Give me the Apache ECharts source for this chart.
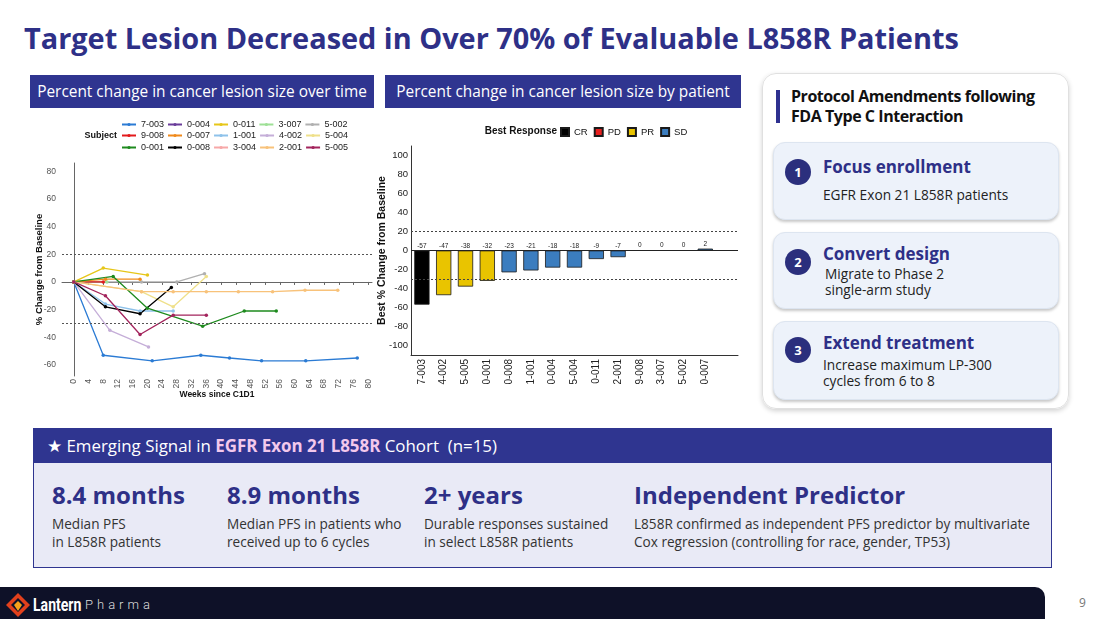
<!DOCTYPE html>
<html lang="en">
<head>
<meta charset="UTF-8">
<title>Target Lesion Decreased</title>
<script src="https://cdn.jsdelivr.net/npm/echarts@6.0.0/dist/echarts.min.js"></script>
<style>
    body{margin:0;width:1100px;height:619px;overflow:hidden;background:#fff;font-family:"Open Sans",sans-serif;position:relative;}
    .abs{position:absolute;white-space:nowrap;}
    #title{left:24px;top:19px;font-size:28.9px;line-height:38px;font-weight:700;color:#2e3087;}
    .tag{background:#2f3590;color:#fff;font-size:15.4px;height:33px;line-height:33px;text-align:center;top:75px;}
    #card{left:762px;top:73px;width:305px;height:334px;border:1px solid #e0e0e0;border-radius:14px;box-shadow:0 2px 5px rgba(0,0,0,.18);}
    .sub{left:773px;width:284px;background:#edf2fa;border:1px solid #dde5f0;border-radius:12px;box-shadow:0 2px 3px rgba(0,0,0,.22);}
    .num{left:785px;width:26px;height:26px;border-radius:13px;background:#2b2f7d;color:#fff;font-weight:700;font-size:13px;line-height:26px;text-align:center;}
    .h{left:823px;font-size:17px;line-height:22px;font-weight:700;color:#2e3087;}
    .b{font-size:13.7px;line-height:15.5px;color:#222;}
    #panel{left:33px;top:428px;width:1017px;height:138px;border:1px solid #2f3590;background:#e9eaf6;}
    #panelHead{left:33px;top:428px;width:1019px;height:35px;background:#2f3590;}
    .sv{top:480px;font-size:24px;line-height:30px;font-weight:700;color:#2e3087;}
    .sd{top:515px;font-size:13.6px;line-height:18px;color:#333;}
    #footer{left:0;top:587px;width:1045px;height:32px;background:#0e1128;border-top-right-radius:10px;}
</style>
</head>
<body>
<div class="abs" id="title">Target Lesion Decreased in Over 70% of Evaluable L858R Patients</div>
<div class="abs tag" style="left:30px;width:344px;">Percent change in cancer lesion size over time</div>
<div class="abs tag" style="left:385px;width:356px;">Percent change in cancer lesion size by patient</div>

<div id="lineChart" class="abs" style="left:28px;top:112px;width:350px;height:292px;"></div>
<div id="wfChart" class="abs" style="left:375px;top:118px;width:370px;height:285px;"></div>

<!-- 右侧卡片 -->
<div class="abs" id="card"></div>
<div class="abs" style="left:776px;top:90px;width:4px;height:33px;background:#2e3190;"></div>
<div class="abs" style="left:791px;top:86px;font-size:16px;line-height:20px;font-weight:700;color:#111;letter-spacing:-0.45px;">Protocol Amendments following<br>FDA Type C Interaction</div>

<div class="abs sub" style="top:142px;height:76px;"></div>
<div class="abs num" style="top:159px;">1</div>
<div class="abs h" style="top:156px;">Focus enrollment</div>
<div class="abs b" style="left:823px;top:187px;">EGFR Exon 21 L858R patients</div>

<div class="abs sub" style="top:232px;height:75px;"></div>
<div class="abs num" style="top:249px;">2</div>
<div class="abs h" style="top:243px;">Convert design</div>
<div class="abs b" style="left:825px;top:266px;">Migrate to Phase 2<br>single-arm study</div>

<div class="abs sub" style="top:321px;height:77px;"></div>
<div class="abs num" style="top:337px;">3</div>
<div class="abs h" style="top:332px;">Extend treatment</div>
<div class="abs b" style="left:823px;top:357px;">Increase maximum LP-300<br>cycles from 6 to 8</div>

<!-- 底部面板 -->
<div class="abs" id="panel"></div>
<div class="abs" id="panelHead"></div>
<div class="abs" style="left:47px;top:434px;font-size:16.9px;line-height:24px;color:#fff;">&#9733; Emerging Signal in <b style="color:#f3c8ec;">EGFR Exon 21 L858R</b> Cohort&nbsp; (n=15)</div>

<div class="abs sv" style="left:52px;">8.4 months</div>
<div class="abs sd" style="left:52px;">Median PFS<br>in L858R patients</div>
<div class="abs sv" style="left:227px;">8.9 months</div>
<div class="abs sd" style="left:227px;">Median PFS in patients who<br>received up to 6 cycles</div>
<div class="abs sv" style="left:424px;">2+ years</div>
<div class="abs sd" style="left:424px;">Durable responses sustained<br>in select L858R patients</div>
<div class="abs sv" style="left:634px;">Independent Predictor</div>
<div class="abs sd" style="left:634px;">L858R confirmed as independent PFS predictor by multivariate<br>Cox regression (controlling for race, gender, TP53)</div>

<!-- 页脚 -->
<div class="abs" id="footer"></div>
<svg class="abs" style="left:5px;top:592px;" width="26" height="26" viewBox="0 0 26 26">
    <path d="M13 1 L25 13 L13 25 L1 13 Z" fill="#e2401c"/>
    <path d="M13 6 L20 13 L13 20 L6 13 Z" fill="#0e1128"/>
    <path d="M13 9 L17 13 L13 19 L9 13 Z" fill="#f7a21b"/>
</svg>
<div class="abs" style="left:33px;top:593px;font-size:19px;line-height:24px;font-weight:700;color:#fff;font-family:Roboto,sans-serif;transform:scaleX(0.74);transform-origin:left;">Lantern</div>
<div class="abs" style="left:85px;top:595px;font-size:13px;line-height:20px;color:#ddd;letter-spacing:4px;font-family:Roboto,sans-serif;font-weight:300;">Pharma</div>
<div class="abs" style="left:1079px;top:594px;font-size:12px;line-height:18px;color:#777;">9</div>

<script>
    // 受试者 (legend order)
    var subjects = ['7-003', '0-004', '0-011', '3-007', '5-002',
        '9-008', '0-007', '1-001', '4-002', '5-004',
        '0-001', '0-008', '3-004', '2-001', '5-005'];
    var subjectColors = ['#2b7bd4', '#6a3d9a', '#e6c619', '#9ee096', '#b0b0b0',
        '#e31a1c', '#f08a1c', '#8ec2ea', '#c5aed8', '#efe08a',
        '#1e8a1e', '#000000', '#f7a8a8', '#f8c27a', '#a3245c'];

    // [weeks since C1D1, % change]
    var tr7003 = [[0, 0], [8, -53], [21.3, -57], [34.5, -53], [42.3, -55], [51, -57], [63, -57], [77, -55]];
    var tr0004 = [];
    var tr0011 = [[0, 0], [8, 10], [20, 5]];
    var tr3007 = [[0, 0], [9, 0]];
    var tr5002 = [[0, 0], [18.4, 0], [28, 0], [35.5, 6]];
    var tr9008 = [[0, 0], [8, 0]];
    var tr0007 = [[0, 0], [8.6, 2], [18, 2]];
    var tr1001 = [[0, 0], [8.6, -16], [18, -21], [27, -21]];
    var tr4002 = [[0, 0], [9.8, -35], [20.3, -47]];
    var tr5004 = [[0, 0], [18.4, -7], [27, -18], [36, 4]];
    var tr0001 = [[0, 0], [10.7, 4], [20, -19], [35, -32], [46.3, -21], [55, -21]];
    var tr0008 = [[0, 0], [8.6, -18], [18, -23], [26.5, -4]];
    var tr3004 = [];
    var tr2001 = [[0, 0], [18.4, -7], [27, -7], [36, -7], [44.7, -7], [54, -7], [62.8, -6], [71.7, -6]];
    var tr5005 = [[0, 0], [8.6, -10], [18, -38], [27, -24], [36, -24]];
    var trajectories = [tr7003, tr0004, tr0011, tr3007, tr5002, tr9008, tr0007, tr1001,
        tr4002, tr5004, tr0001, tr0008, tr3004, tr2001, tr5005];

    var weekTicks = [0, 4, 8, 12, 16, 20, 24, 28, 32, 36, 40, 44, 48, 52, 56, 60, 64, 68, 72, 76, 80];
    var lineYTicks = [-60, -40, -20, 0, 20, 40, 60, 80];
    var refLines = [20, -30];

    // 瀑布图
    var wfSubjects = ['7-003', '4-002', '5-005', '0-001', '0-008', '1-001', '0-004',
        '5-004', '0-011', '2-001', '9-008', '3-007', '5-002', '0-007'];
    var wfBest = [-57, -47, -38, -32, -23, -21, -18, -18, -9, -7, 0, 0, 0, 2];
    var wfResponse = ['CR', 'PR', 'PR', 'PR', 'SD', 'SD', 'SD', 'SD', 'SD', 'SD', 'SD', 'SD', 'SD', 'SD'];
    var responseTypes = ['CR', 'PD', 'PR', 'SD'];
    var responseColors = ['#000000', '#e8201f', '#e9c400', '#3b7dbf'];
    var wfYTicks = [-100, -80, -60, -40, -20, 0, 20, 40, 60, 80, 100];

    var chartFont = '"Liberation Sans", Arial, sans-serif';

    // ---- left chart ----
    var lineChart = echarts.init(document.getElementById('lineChart'));
    var lineSeries = subjects.map(function (s, i) {
        return {
            name: s,
            type: 'line',
            data: trajectories[i],
            symbol: 'circle',
            symbolSize: 3.5,
            lineStyle: {width: 1.3, color: subjectColors[i]},
            itemStyle: {color: subjectColors[i]},
            emphasis: {disabled: true}
        };
    });
    lineSeries[0].markLine = {
        silent: true,
        symbol: ['none', 'none'],
        label: {show: false},
        lineStyle: {type: [2, 2], color: '#555', width: 1},
        data: refLines.map(function (v) { return {yAxis: v}; })
    };
    var rowTops = [8, 19, 31];
    lineChart.setOption({
        animation: false,
        textStyle: {fontFamily: chartFont},
        grid: {left: 34, top: 51, right: 6, bottom: 28, outerBoundsMode: 'none'},
        legend: [0, 1, 2].map(function (r) {
            return {
                data: subjects.slice(r * 5, r * 5 + 5),
                top: rowTops[r], left: 93,
                orient: 'horizontal',
                itemWidth: 14, itemHeight: 4, itemGap: 3,
                padding: 0,
                selectedMode: false,
                textStyle: {fontSize: 9, color: '#222', fontFamily: chartFont}
            };
        }),
        graphic: [{
            type: 'text', x: 89, y: 24,
            style: {text: 'Subject', align: 'right', verticalAlign: 'middle', font: 'bold 9px ' + chartFont, fill: '#111'}
        }],
        xAxis: {
            type: 'value', min: -3.2, max: 81,
            name: 'Weeks since C1D1', nameLocation: 'middle', nameGap: 14, nameMoveOverlap: false,
            nameTextStyle: {fontWeight: 'bold', fontSize: 8.5, color: '#111'},
            axisLine: {show: true, lineStyle: {color: '#666', width: 1}},
            axisTick: {show: true, length: 3, lineStyle: {color: '#666'}, customValues: weekTicks},
            axisLabel: {rotate: 90, fontSize: 8.5, color: '#555', margin: 3, customValues: weekTicks},
            splitLine: {show: false}
        },
        yAxis: {
            type: 'value', min: -68, max: 86,
            name: '% Change from Baseline', nameLocation: 'middle', nameGap: 18, nameMoveOverlap: false,
            nameTextStyle: {fontWeight: 'bold', fontSize: 9.5, color: '#111'},
            axisLine: {show: true, lineStyle: {color: '#666', width: 1}},
            axisTick: {show: false},
            axisLabel: {fontSize: 8.5, color: '#555', margin: 6, customValues: lineYTicks},
            splitLine: {show: false}
        },
        series: lineSeries
    });

    // ---- waterfall ----
    var wfChart = echarts.init(document.getElementById('wfChart'));
    var wfSeries = responseTypes.map(function (t, k) {
        return {
            name: t,
            type: 'bar',
            stack: 'best',
            barWidth: '70%',
            data: wfBest.map(function (v, i) { return wfResponse[i] === t ? v : '-'; }),
            itemStyle: {color: responseColors[k], borderColor: '#1a1a1a', borderWidth: 0.8},
            label: {show: true, position: 'top', distance: 1, fontSize: 6.5, color: '#222', formatter: '{c}'},
            emphasis: {disabled: true}
        };
    });
    wfSeries[0].markLine = {
        silent: true,
        symbol: ['none', 'none'],
        label: {show: false},
        data: [
            {yAxis: 0, lineStyle: {type: 'solid', color: '#222', width: 1}},
            {yAxis: refLines[0], lineStyle: {type: [2, 2], color: '#444', width: 1}},
            {yAxis: refLines[1], lineStyle: {type: [2, 2], color: '#444', width: 1}}
        ]
    };
    wfChart.setOption({
        animation: false,
        textStyle: {fontFamily: chartFont},
        grid: {left: 36, top: 28, right: 7, bottom: 48, outerBoundsMode: 'none'},
        legend: {
            data: responseTypes,
            left: 185, top: 9,
            icon: 'rect', itemWidth: 8, itemHeight: 8, itemGap: 6,
            padding: 0, selectedMode: false,
            textStyle: {fontSize: 9.5, color: '#111', fontFamily: chartFont}
        },
        graphic: [{
            type: 'text', x: 182, y: 13,
            style: {text: 'Best Response', align: 'right', verticalAlign: 'middle', font: 'bold 10px ' + chartFont, fill: '#111'}
        }],
        xAxis: {
            type: 'category',
            data: wfSubjects.concat(['']),
            axisLine: {show: true, onZero: false, lineStyle: {color: '#333', width: 1}},
            axisTick: {show: false},
            axisLabel: {rotate: 90, fontSize: 10, color: '#222', margin: 4, interval: 0}
        },
        yAxis: {
            type: 'value', min: -110, max: 110,
            name: 'Best % Change from Baseline', nameLocation: 'middle', nameGap: 23, nameMoveOverlap: false,
            nameTextStyle: {fontWeight: 'bold', fontSize: 10.5, color: '#111'},
            axisLine: {show: true, lineStyle: {color: '#333', width: 1}},
            axisTick: {show: false},
            axisLabel: {fontSize: 9.5, color: '#222', margin: 3, customValues: wfYTicks},
            splitLine: {show: false}
        },
        series: wfSeries
    });
</script>
</body>
</html>
